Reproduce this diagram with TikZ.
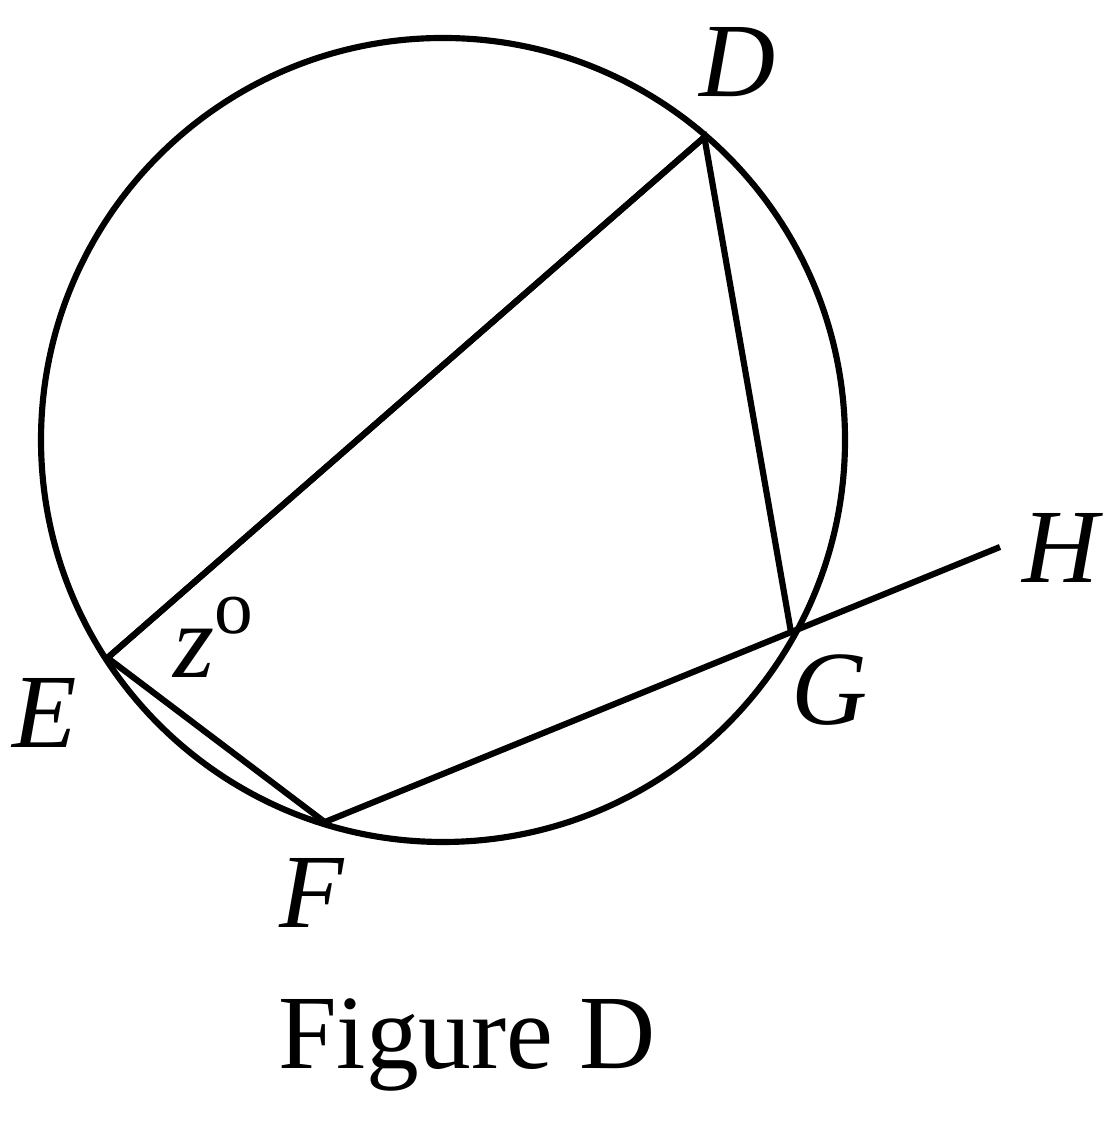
\documentclass[tikz,border=0pt]{standalone}
\usepackage{fontspec}
\setmainfont{Liberation Serif}
\usetikzlibrary{calc}
\begin{document}
\begin{tikzpicture}[line width=1.75pt, font=\fontsize{30}{36}\selectfont]
        \useasboundingbox (0,0) rectangle (11.16,11.24);

        % Define the circle and the points on it
        \coordinate (O) at (4.43,6.84);
        \coordinate (D) at ($(O)+(49.2:4.0)$);
        \coordinate (E) at ($(O)+(213:4.0)$);
        \coordinate (F) at ($(O)+(252.8:4.0)$);
        \coordinate (G) at ($(O)+(331:3.98)$);
        \coordinate (H) at (10.00,5.77);

        % Draw the circle
        \draw (O) circle (4.02);

        % Draw the chords and the ray
        \draw[line join=miter] (E) -- (D) -- (G);
        \draw[line join=miter] (D) -- (E) -- (F) -- (H);

        % Label the points
        \node at (7.38,10.62) {\textit{D}};
        \node at (0.45,4.11) {\textit{E}};
        \node at (3.12,2.31) {\textit{F}};
        \node at (8.30,4.34) {\textit{G}};
        \node at (10.63,5.76) {\textit{H}};

        % Label the angle
        \node at (2.13,4.87) {\textit{z}\raisebox{0.42em}{\fontsize{22}{26}\selectfont o}};

        % Caption
        \node at (4.67,0.79) {Figure D};
    \end{tikzpicture}
\end{document}
